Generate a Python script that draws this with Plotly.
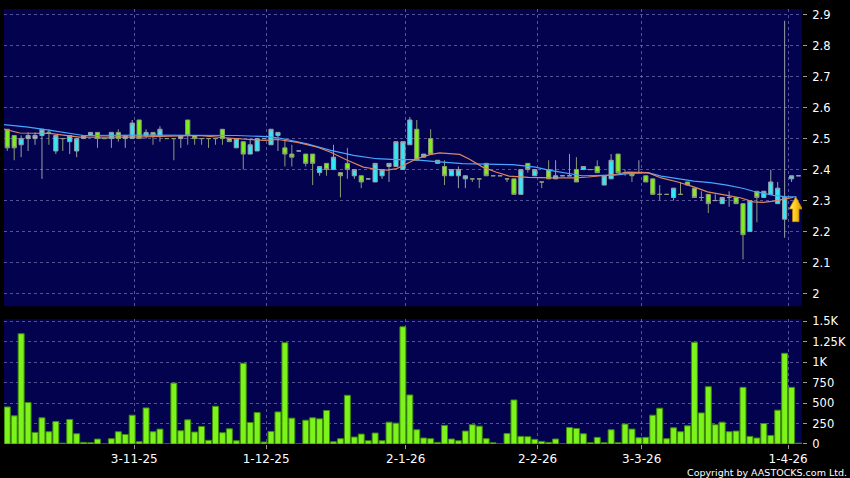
import plotly.graph_objects as go

# ---------------- data ----------------
OPEN = [2.53, 2.51, 2.48, 2.50, 2.50, 2.51, 2.52, 2.46, 2.50, 2.49,
        2.46, 2.50, 2.51, 2.52, 2.50, 2.50, 2.52, 2.50, 2.50, 2.56,
        2.51, 2.52, 2.51, 2.50, 2.50, 2.50, 2.56, 2.51, 2.50, 2.50,
        2.50, 2.53, 2.50, 2.47, 2.49, 2.45, 2.46, 2.50, 2.48, 2.51,
        2.47, 2.45, 2.46, 2.45, 2.45, 2.39, 2.42, 2.40, 2.39, 2.42,
        2.38, 2.38, 2.37, 2.36, 2.38, 2.41, 2.41, 2.40, 2.48, 2.53,
        2.44, 2.50, 2.42, 2.41, 2.38, 2.38, 2.37, 2.37, 2.37, 2.42,
        2.38, 2.38, 2.37, 2.37, 2.32, 2.42, 2.38, 2.36, 2.40, 2.37,
        2.38, 2.38, 2.40, 2.40, 2.40, 2.41, 2.35, 2.37, 2.45, 2.39,
        2.39, 2.39, 2.38, 2.37, 2.32, 2.32, 2.31, 2.32, 2.36, 2.34,
        2.31, 2.32, 2.30, 2.29, 2.31, 2.31, 2.29, 2.20, 2.33, 2.31,
        2.32, 2.29, 2.24, 2.37, 2.38]
HIGH = [2.53, 2.51, 2.51, 2.52, 2.52, 2.53, 2.53, 2.51, 2.50, 2.51,
        2.50, 2.51, 2.52, 2.52, 2.50, 2.52, 2.53, 2.51, 2.56, 2.56,
        2.53, 2.52, 2.54, 2.50, 2.50, 2.51, 2.56, 2.51, 2.50, 2.50,
        2.50, 2.53, 2.50, 2.50, 2.49, 2.50, 2.50, 2.50, 2.53, 2.52,
        2.50, 2.48, 2.46, 2.45, 2.45, 2.41, 2.42, 2.48, 2.39, 2.47,
        2.40, 2.38, 2.37, 2.42, 2.40, 2.42, 2.49, 2.49, 2.57, 2.56,
        2.45, 2.53, 2.43, 2.43, 2.40, 2.41, 2.38, 2.37, 2.37, 2.42,
        2.38, 2.38, 2.37, 2.37, 2.40, 2.42, 2.40, 2.36, 2.43, 2.43,
        2.38, 2.45, 2.44, 2.41, 2.40, 2.43, 2.38, 2.45, 2.45, 2.40,
        2.39, 2.43, 2.38, 2.37, 2.35, 2.32, 2.34, 2.36, 2.36, 2.34,
        2.33, 2.32, 2.32, 2.31, 2.33, 2.31, 2.29, 2.30, 2.33, 2.33,
        2.40, 2.36, 2.88, 2.38, 2.38]
LOW = [2.46, 2.43, 2.44, 2.46, 2.48, 2.37, 2.48, 2.45, 2.46, 2.45,
       2.44, 2.50, 2.51, 2.47, 2.50, 2.47, 2.49, 2.47, 2.50, 2.50,
       2.50, 2.48, 2.49, 2.50, 2.43, 2.47, 2.48, 2.48, 2.48, 2.47,
       2.48, 2.48, 2.49, 2.47, 2.40, 2.45, 2.46, 2.50, 2.48, 2.46,
       2.41, 2.41, 2.46, 2.41, 2.35, 2.38, 2.38, 2.40, 2.31, 2.37,
       2.37, 2.34, 2.37, 2.36, 2.37, 2.36, 2.41, 2.40, 2.48, 2.43,
       2.44, 2.45, 2.42, 2.35, 2.38, 2.34, 2.34, 2.36, 2.34, 2.38,
       2.38, 2.38, 2.36, 2.32, 2.32, 2.39, 2.38, 2.34, 2.37, 2.37,
       2.38, 2.38, 2.36, 2.40, 2.40, 2.39, 2.35, 2.37, 2.39, 2.38,
       2.36, 2.39, 2.36, 2.32, 2.30, 2.32, 2.30, 2.32, 2.35, 2.31,
       2.30, 2.26, 2.30, 2.29, 2.28, 2.29, 2.11, 2.20, 2.23, 2.31,
       2.32, 2.29, 2.18, 2.36, 2.38]
CLOSE = [2.47, 2.47, 2.50, 2.51, 2.51, 2.53, 2.52, 2.51, 2.50, 2.51,
         2.50, 2.51, 2.52, 2.50, 2.50, 2.52, 2.50, 2.51, 2.55, 2.50,
         2.52, 2.51, 2.53, 2.50, 2.50, 2.51, 2.51, 2.50, 2.50, 2.50,
         2.50, 2.50, 2.49, 2.50, 2.45, 2.48, 2.50, 2.50, 2.53, 2.52,
         2.45, 2.44, 2.46, 2.42, 2.42, 2.41, 2.40, 2.44, 2.38, 2.40,
         2.40, 2.36, 2.37, 2.42, 2.40, 2.42, 2.49, 2.49, 2.56, 2.43,
         2.45, 2.45, 2.43, 2.38, 2.40, 2.40, 2.38, 2.37, 2.37, 2.38,
         2.38, 2.38, 2.37, 2.32, 2.40, 2.40, 2.40, 2.36, 2.37, 2.38,
         2.38, 2.38, 2.36, 2.41, 2.40, 2.39, 2.38, 2.43, 2.39, 2.39,
         2.38, 2.39, 2.36, 2.32, 2.32, 2.32, 2.34, 2.32, 2.35, 2.31,
         2.31, 2.29, 2.30, 2.31, 2.31, 2.29, 2.19, 2.30, 2.31, 2.33,
         2.36, 2.34, 2.31, 2.38, 2.38]
VOLUME = [453, 344, 1347, 506, 142, 320, 150, 275, 10, 300,
          125, 20, 16, 60, 0, 65, 150, 117, 352, 28,
          441, 150, 182, 0, 744, 162, 295, 146, 214, 45,
          461, 138, 186, 40, 987, 263, 384, 24, 154, 392,
          1238, 316, 0, 291, 320, 307, 409, 28, 65, 595,
          85, 121, 40, 134, 40, 267, 255, 1432, 599, 174,
          73, 65, 20, 227, 61, 40, 158, 235, 218, 65,
          16, 0, 129, 538, 93, 89, 57, 32, 20, 61,
          0, 202, 190, 125, 16, 81, 16, 174, 16, 243,
          182, 77, 81, 352, 437, 65, 198, 150, 222, 1242,
          380, 700, 235, 267, 150, 158, 692, 93, 73, 251,
          105, 413, 1108, 692, 10]

# moving-average lines (bar position, value)
MA_SLOW_X = [-0.5, 3, 6, 9, 11, 20, 28, 33, 37.5, 39.4, 43.2, 46.6, 49.9, 53.2,
             56.1, 58.5, 60.9, 65.6, 72.8, 76.1, 78, 80.9, 82.8, 87.5, 89.4,
             92.3, 94.2, 96.6, 98.9, 101.3, 103.7, 106.1, 107.5, 110.4, 112.3, 113.7]
MA_SLOW_Y = [2.545, 2.537, 2.527, 2.516, 2.510, 2.511, 2.511, 2.510, 2.506, 2.501,
             2.483, 2.462, 2.446, 2.435, 2.432, 2.432, 2.427, 2.419, 2.416, 2.408,
             2.398, 2.387, 2.380, 2.382, 2.387, 2.390, 2.379, 2.371, 2.363, 2.358,
             2.350, 2.339, 2.330, 2.317, 2.312, 2.312]
MA_FAST_X = [-0.5, 1.8, 6.1, 8.5, 10.4, 18, 27.5, 32.3, 37, 39, 41.8, 44.7, 46.6,
             49, 51.3, 53.2, 54.7, 56.1, 57.5, 59, 60.9, 62.3, 65.2, 66.6, 68.5,
             70.4, 72.3, 75.1, 78.5, 81.8, 83.7, 85.6, 87.5, 89.4, 92.3, 94.2,
             96.6, 98.9, 100.9, 103.7, 105.6, 107.5, 108.9, 110.4, 111.8, 113.2]
MA_FAST_Y = [2.531, 2.518, 2.517, 2.510, 2.505, 2.505, 2.510, 2.501, 2.494, 2.497,
             2.488, 2.472, 2.456, 2.430, 2.408, 2.401, 2.398, 2.403, 2.418, 2.435,
             2.448, 2.454, 2.449, 2.433, 2.408, 2.392, 2.379, 2.375, 2.373, 2.373,
             2.376, 2.379, 2.384, 2.392, 2.390, 2.373, 2.360, 2.344, 2.328, 2.317,
             2.309, 2.296, 2.294, 2.298, 2.305, 2.310]

DATE_TICK_POS = [18.3, 37.3, 57.4, 76.4, 91.4, 112.5]
DATE_TICK_TEXT = ["3-11-25", "1-12-25", "2-1-26", "2-2-26", "3-3-26", "1-4-26"]
PRICE_TICKS = [2.0, 2.1, 2.2, 2.3, 2.4, 2.5, 2.6, 2.7, 2.8, 2.9]
PRICE_TICK_TEXT = ["2", "2.1", "2.2", "2.3", "2.4", "2.5", "2.6", "2.7", "2.8", "2.9"]
VOL_TICKS = [0, 250, 500, 750, 1000, 1250, 1500]
VOL_TICK_TEXT = ["0", "250", "500", "750", "1K", "1.25K", "1.5K"]

# marker arrow (latest-price pointer)
ARROW_X = 113.6
ARROW_TIP = 2.312
ARROW_NECK = 2.273
ARROW_BASE = 2.232

# ---------------- figure ----------------
idx = list(range(len(CLOSE)))
FONT = "DejaVu Sans"
GRID = "rgba(140,140,195,0.6)"
TICKC = "#9a9a9a"

fig = go.Figure()

fig.add_trace(go.Scatter(x=MA_SLOW_X, y=MA_SLOW_Y, mode="lines",
                         line=dict(color="#45a6ff", width=1.2),
                         xaxis="x", yaxis="y", hoverinfo="skip"))
fig.add_trace(go.Scatter(x=MA_FAST_X, y=MA_FAST_Y, mode="lines",
                         line=dict(color="#dc8660", width=1.2),
                         xaxis="x", yaxis="y", hoverinfo="skip"))

fig.add_trace(go.Candlestick(
    x=idx, open=OPEN, high=HIGH, low=LOW, close=CLOSE,
    increasing=dict(line=dict(color="#9aa0a8", width=1), fillcolor="#30e8f6"),
    decreasing=dict(line=dict(color="#8c9c74", width=1), fillcolor="#7cf01a"),
    whiskerwidth=0, xaxis="x", yaxis="y"))

hw, sw = 0.95, 0.46
ax_pts = [ARROW_X, ARROW_X + hw, ARROW_X + sw, ARROW_X + sw, ARROW_X - sw,
          ARROW_X - sw, ARROW_X - hw, ARROW_X]
ay_pts = [ARROW_TIP, ARROW_NECK, ARROW_NECK, ARROW_BASE, ARROW_BASE,
          ARROW_NECK, ARROW_NECK, ARROW_TIP]
fig.add_trace(go.Scatter(x=ax_pts, y=ay_pts, mode="lines", fill="toself",
                         fillgradient=dict(type="horizontal",
                                           colorscale=[[0, "#fff27a"], [0.5, "#f9c81c"], [1, "#dc8e00"]]),
                         line=dict(color="#c88400", width=0.8),
                         xaxis="x", yaxis="y", hoverinfo="skip"))

fig.add_trace(go.Bar(x=idx, y=VOLUME, marker=dict(color="#7cf41c", line=dict(color="#3f8a08", width=1)),
                     width=0.86, xaxis="x2", yaxis="y2"))

XR = [-0.47, 114.5]
fig.update_layout(
    width=850, height=478,
    margin=dict(l=4, r=42, t=5, b=34),
    paper_bgcolor="#000000", plot_bgcolor="#02024e",
    showlegend=False, boxgap=0.14,
    font=dict(family=FONT, size=11, color="#ffffff"),
    xaxis=dict(domain=[0, 1], range=XR, anchor="y", showticklabels=False,
               tickvals=DATE_TICK_POS, showgrid=True, gridcolor=GRID, griddash="3px,3px",
               gridwidth=1, zeroline=False, rangeslider=dict(visible=False), fixedrange=True),
    xaxis2=dict(domain=[0, 1], range=XR, anchor="y2", matches="x",
                tickvals=DATE_TICK_POS, ticktext=DATE_TICK_TEXT, ticks="outside", ticklen=4,
                tickcolor=TICKC, showgrid=True, gridcolor=GRID, griddash="3px,3px",
                zeroline=False, ticklabelstandoff=0,
                tickfont=dict(family=FONT, size=12, color="#ffffff")),
    yaxis=dict(domain=[0.3166, 1], range=[1.959, 2.918], side="right", anchor="x",
               tickvals=PRICE_TICKS, ticktext=PRICE_TICK_TEXT, ticks="outside", ticklen=4,
               tickcolor=TICKC, showgrid=True, gridcolor=GRID, griddash="3px,3px",
               zeroline=False, ticklabelstandoff=3,
               tickfont=dict(family=FONT, size=11.5, color="#ffffff")),
    yaxis2=dict(domain=[0, 0.287], range=[0, 1525], side="right", anchor="x2",
                tickvals=VOL_TICKS, ticktext=VOL_TICK_TEXT, ticks="outside", ticklen=4,
                tickcolor=TICKC, showgrid=True, gridcolor=GRID, griddash="3px,3px",
                zeroline=False, ticklabelstandoff=3,
                tickfont=dict(family=FONT, size=11.5, color="#ffffff")),
    annotations=[dict(text="Copyright by AASTOCKS.com Ltd.", xref="paper", yref="paper",
                      x=1.058, y=-0.0665, xanchor="right", yanchor="middle", showarrow=False,
                      borderpad=0, font=dict(family=FONT, size=9.5, color="#ffffff"))],
)

fig.write_html("out.html", config={"displayModeBar": False},
               post_script="document.body.style.margin='0';document.body.style.background='#000';")
